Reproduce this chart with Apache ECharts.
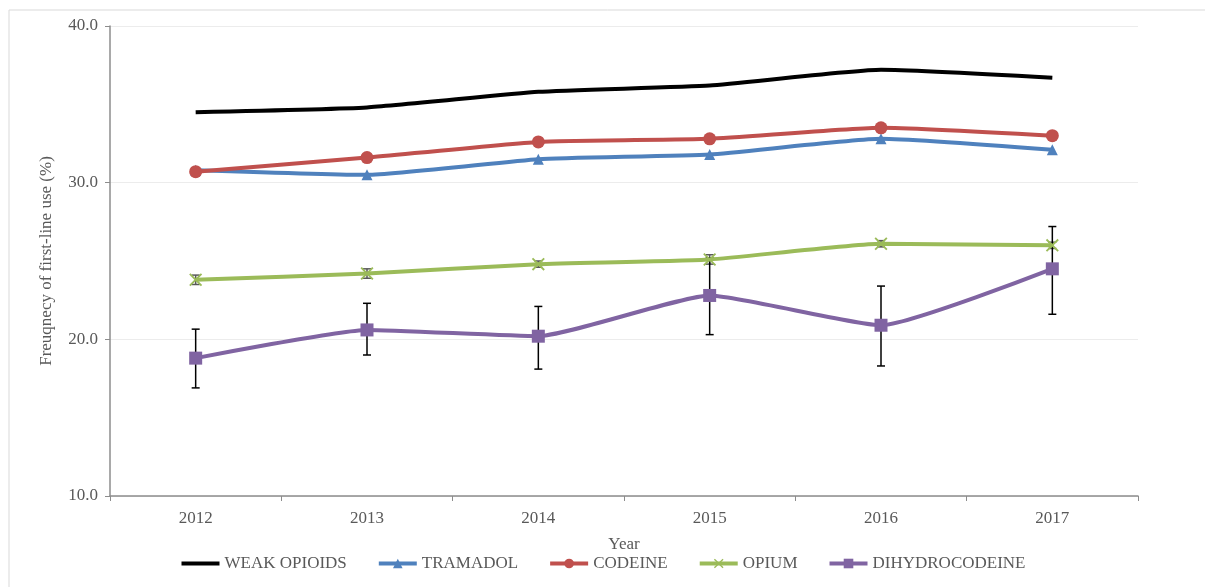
<!DOCTYPE html>
<html>
<head>
<meta charset="utf-8">
<script src="https://cdn.jsdelivr.net/npm/echarts@6/dist/echarts.min.js"></script>
<style>
  html, body { margin: 0; padding: 0; background: #fff; }
  #chart { width: 1205px; height: 587px; }
</style>
</head>
<body>
<div id="chart"></div>
<script>
var years = ["2012", "2013", "2014", "2015", "2016", "2017"];
var weakOpioids = [34.5, 34.8, 35.8, 36.2, 37.2, 36.7];
var tramadol = [30.8, 30.5, 31.5, 31.8, 32.8, 32.1];
var codeine = [30.7, 31.6, 32.6, 32.8, 33.5, 33.0];
var opium = [23.8, 24.2, 24.8, 25.1, 26.1, 26.0];
var opiumLow = [23.5, 23.9, 24.6, 24.8, 25.9, 25.8];
var opiumHigh = [24.1, 24.5, 25.0, 25.4, 26.3, 26.2];
var dihydrocodeine = [18.8, 20.6, 20.2, 22.8, 20.9, 24.5];
var dihydroLow = [16.9, 19.0, 18.1, 20.3, 18.3, 21.6];
var dihydroHigh = [20.65, 22.3, 22.1, 25.2, 23.4, 27.2];

var textColor = "#595959";
var font = "'Liberation Serif', 'Times New Roman', serif";
var crossPath = "path://M0,1L1,0L5,4L9,0L10,1L6,5L10,9L9,10L5,6L1,10L0,9L4,5Z";

function errorBars(low, high, color) {
  return {
    type: "custom",
    z: 1,
    silent: true,
    data: years.map(function (y, i) { return [i, low[i], high[i]]; }),
    renderItem: function (params, api) {
      var lo = api.coord([api.value(0), api.value(1)]);
      var hi = api.coord([api.value(0), api.value(2)]);
      var cap = 4;
      var style = { stroke: color, lineWidth: 1.5 };
      return {
        type: "group",
        children: [
          { type: "line", shape: { x1: lo[0], y1: lo[1], x2: hi[0], y2: hi[1] }, style: style },
          { type: "line", shape: { x1: lo[0] - cap, y1: lo[1], x2: lo[0] + cap, y2: lo[1] }, style: style },
          { type: "line", shape: { x1: hi[0] - cap, y1: hi[1], x2: hi[0] + cap, y2: hi[1] }, style: style }
        ]
      };
    }
  };
}

function lineSeries(name, data, color, symbol, size) {
  return {
    name: name,
    type: "line",
    data: data,
    z: 3,
    smooth: 0.15,
    symbol: symbol,
    symbolSize: size,
    showSymbol: symbol !== "none",
    lineStyle: { color: color, width: 4 },
    itemStyle: { color: color },
    emphasis: { disabled: true }
  };
}

var myChart = echarts.init(document.getElementById("chart"));
var option = {
  animation: false,
  backgroundColor: "#fff",
  graphic: [{
    type: "rect",
    shape: { x: 9, y: 10, width: 1210, height: 590 },
    style: { fill: "none", stroke: "#d9d9d9", lineWidth: 1 },
    silent: true
  }],
  grid: { left: 110, right: 67, top: 26, bottom: 91 },
  legend: {
    bottom: 10,
    left: "center",
    itemWidth: 38,
    itemHeight: 12,
    itemGap: 30,
    lineStyle: { width: 4 },
    textStyle: { color: textColor, fontFamily: font, fontSize: 17 },
    data: [
      { name: "WEAK OPIOIDS", itemStyle: { opacity: 0 } },
      "TRAMADOL", "CODEINE", "OPIUM", "DIHYDROCODEINE"
    ]
  },
  xAxis: {
    type: "category",
    data: years,
    name: "Year",
    nameLocation: "middle",
    nameGap: 40,
    nameTextStyle: { color: textColor, fontFamily: font, fontSize: 17 },
    axisLine: { lineStyle: { color: "#8c8c8c", width: 1.5 } },
    axisTick: { show: true, length: 5, lineStyle: { color: "#8c8c8c" } },
    axisLabel: { color: textColor, fontFamily: font, fontSize: 17, margin: 14 }
  },
  yAxis: {
    type: "value",
    min: 10,
    max: 40,
    interval: 10,
    name: "Freuqnecy of first-line use (%)",
    nameLocation: "middle",
    nameGap: 55,
    nameTextStyle: { color: textColor, fontFamily: font, fontSize: 17 },
    axisLine: { show: true, lineStyle: { color: "#8c8c8c", width: 1.5 } },
    axisTick: { show: true, length: 5, lineStyle: { color: "#8c8c8c" } },
    axisLabel: {
      color: textColor, fontFamily: font, fontSize: 17, margin: 12,
      formatter: function (v) { return v.toFixed(1); }
    },
    splitLine: { lineStyle: { color: "#ececec", width: 1 } }
  },
  series: [
    lineSeries("WEAK OPIOIDS", weakOpioids, "#000000", "none", 0),
    lineSeries("TRAMADOL", tramadol, "#4F81BD", "triangle", 11),
    lineSeries("CODEINE", codeine, "#C0504D", "circle", 13),
    lineSeries("OPIUM", opium, "#9BBB59", crossPath, 13),
    lineSeries("DIHYDROCODEINE", dihydrocodeine, "#8064A2", "rect", 13),
    errorBars(opiumLow, opiumHigh, "#595959"),
    errorBars(dihydroLow, dihydroHigh, "#000000")
  ]
};
myChart.setOption(option);
</script>
</body>
</html>
